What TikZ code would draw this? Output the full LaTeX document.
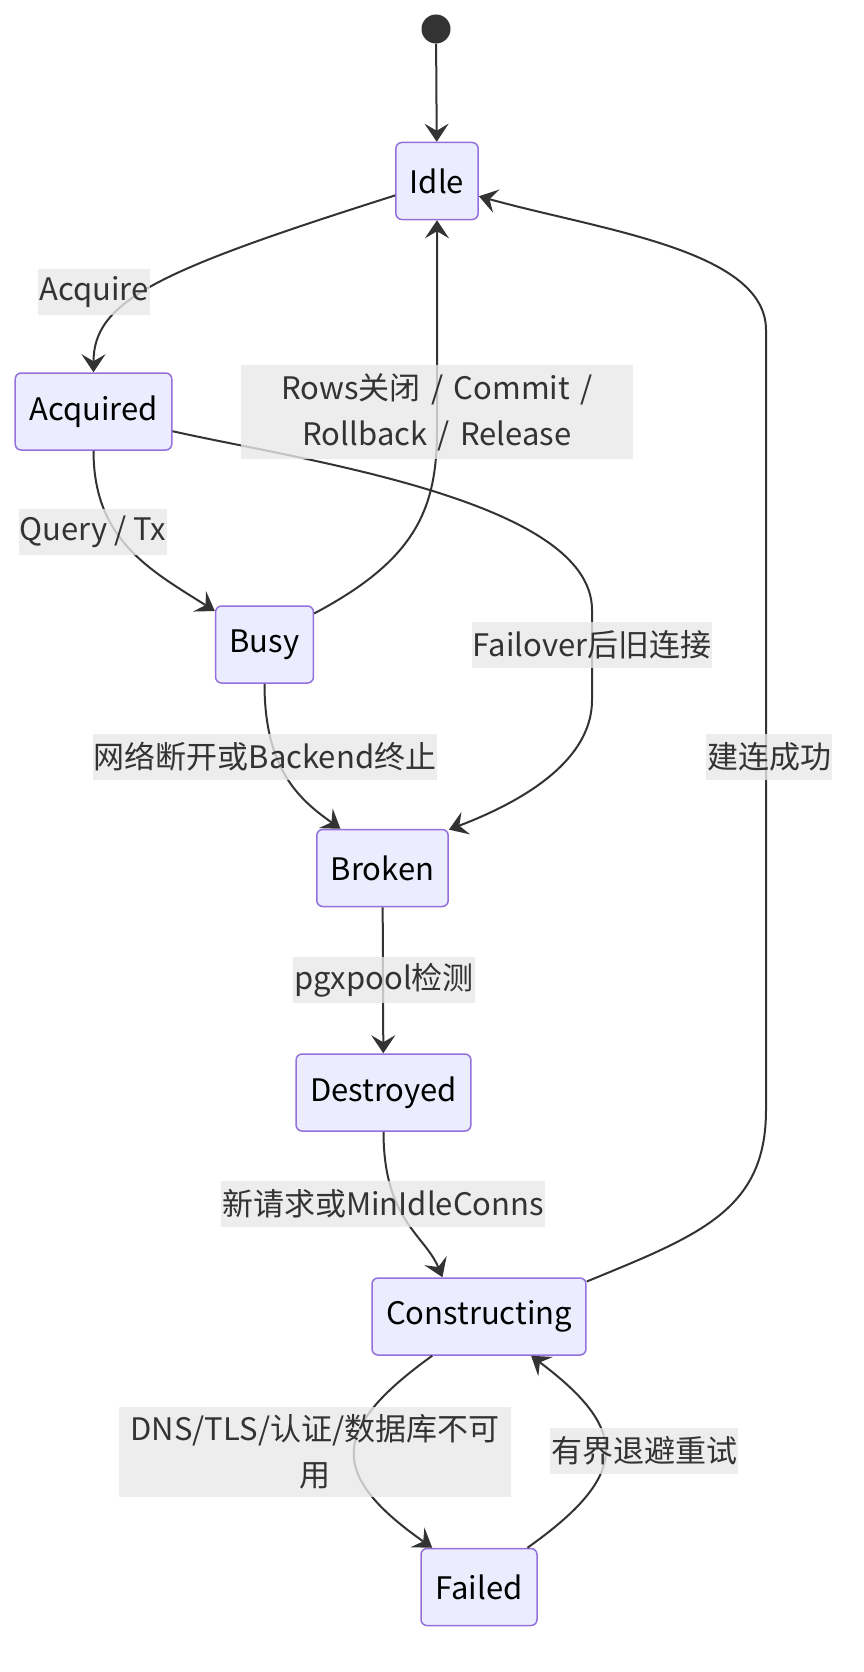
\documentclass[tikz,border=0pt]{standalone}
\usepackage{fontspec}
\setmainfont{Noto Sans CJK SC}
\usepackage{xcolor}
\usetikzlibrary{arrows.meta}
\definecolor{statefill}{HTML}{ECECFF}
\definecolor{stateline}{HTML}{9370DB}
\definecolor{edgeline}{HTML}{333333}
\definecolor{labelbg}{HTML}{E8E8E8}
\tikzstyle{state}     = [rectangle, rounded corners=6pt, draw=stateline, fill=statefill, line width=1.5pt, minimum height=77pt, inner xsep=14pt, font=\fontsize{31}{46}\selectfont]
\tikzstyle{startdot}  = [circle, fill=edgeline, minimum size=29pt, inner sep=0pt]
\tikzstyle{trans}     = [fill=labelbg, fill opacity=0.8, text opacity=1, text=edgeline, inner xsep=1pt, inner ysep=0pt, minimum height=46pt, font=\fontsize{31}{46}\selectfont]
\tikzstyle{translong} = [trans, inner xsep=6pt, inner ysep=8pt, text width=380pt, align=center]
\tikzstyle{arrow}     = [-{Stealth[length=18pt, width=24pt, inset=7pt]}, line width=2pt, draw=edgeline]

\begin{document}
\begin{tikzpicture}[x=1pt, y=-1pt]
    \useasboundingbox (0,0) rectangle (864,1672);

    \node (start) [startdot] at (436,29) {};
    \node (idle) [state, minimum width=82pt] at (437,181) {Idle};
    \node (acquired) [state, minimum width=155pt] at (93.5,411.5) {Acquired};
    \node (busy) [state, minimum width=94pt] at (264.5,644.5) {Busy};
    \node (broken) [state, minimum width=127pt] at (382.5,868) {Broken};
    \node (destroyed) [state, minimum width=171pt] at (383.5,1092.5) {Destroyed};
    \node (constructing) [state, minimum width=208pt] at (479,1316.5) {Constructing};
    \node (failed) [state, minimum width=116pt] at (479,1587) {Failed};

    \draw [arrow] (start) -- (idle);
    \draw [arrow] (idle.199) .. controls (160,270) and (93.5,300) .. (acquired.north);
    \draw [arrow] (acquired.south) .. controls (93.5,540) and (150,570) .. (busy.146);
    \draw [arrow] (acquired.-14) .. controls (300,460) and (592,500) .. (592,610) -- (592,700) .. controls (592,770) and (500,810) .. (broken.30);
    \draw [arrow] (busy.32) .. controls (415,560) and (437,510) .. (437,430) -- (idle.south);
    \draw [arrow] (busy.south) .. controls (264.5,770) and (300,800) .. (broken.137);
    \draw [arrow] (broken) -- (destroyed);
    \draw [arrow] (destroyed.south) .. controls (383.5,1220) and (425,1235) .. (constructing.133);
    \draw [arrow] (constructing.18) .. controls (700,1235) and (766,1210) .. (766,1110) -- (766,330) .. controls (766,250) and (600,230) .. (idle.-20);
    \draw [arrow] (constructing.220) .. controls (329,1430) and (329,1475) .. (failed.140);
    \draw [arrow] (failed.39) .. controls (630,1475) and (630,1430) .. (constructing.-37);

    % labels on the transitions
    \node (acquireLbl) [trans] at (94,292) {Acquire};
    \node (releaseLbl) [translong] at (437,412) {Rows关闭 / Commit /\\Rollback / Release};
    \node (queryLbl) [trans] at (93,532) {Query / Tx};
    \node (failoverLbl) [trans] at (592,645) {Failover后旧连接};
    \node (netLbl) [trans] at (265,757) {网络断开或Backend终止};
    \node (connLbl) [trans] at (769,757) {建连成功};
    \node (checkLbl) [trans] at (384,980) {pgxpool检测};
    \node (newLbl) [trans] at (383,1204) {新请求或MinIdleConns};
    \node (dnsLbl) [translong] at (315,1452) {DNS/TLS/认证/数据库不可\\用};
    \node (retryLbl) [trans] at (644,1451) {有界退避重试};
\end{tikzpicture}
\end{document}
